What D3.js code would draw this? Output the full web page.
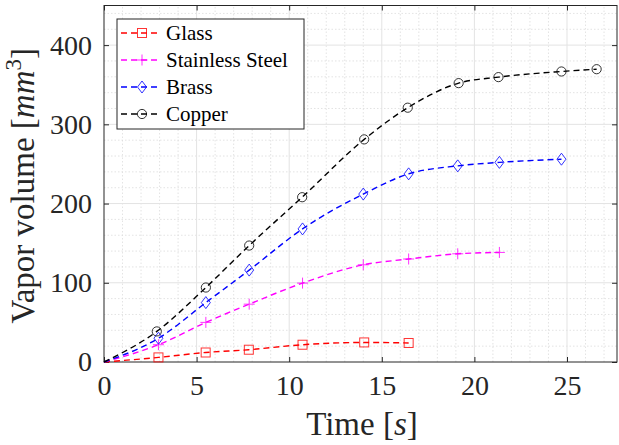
<!DOCTYPE html>
<html>
<head>
<script src="https://d3js.org/d3.v7.min.js"></script>
</head>
<body>
<script>
// data (time in s, volume in mm^3)
var glassT  = [0, 2.94, 5.49, 7.82, 10.72, 14.05, 16.45];
var glassV  = [0, 5.8, 12, 15.5, 21.8, 24.7, 24];
var steelT  = [0, 2.94, 5.5, 7.84, 10.72, 14.0, 16.45, 19.1, 21.35];
var steelV  = [0, 21.8, 50, 73, 99.6, 122.7, 130, 136.6, 138.3];
var brassT  = [0, 2.94, 5.5, 7.84, 10.72, 14.0, 16.45, 19.1, 21.35, 24.7];
var brassV  = [0, 30, 75, 116, 168, 212, 237.5, 247.6, 252, 256];
var copperT = [0, 2.85, 5.5, 7.84, 10.7, 14.05, 16.4, 19.15, 21.3, 24.7, 26.6];
var copperV = [0, 38.6, 94, 147, 208, 281, 321, 352, 359.6, 366.7, 369.6];

var names   = ["Glass", "Stainless Steel", "Brass", "Copper"];
var colors  = ["#ff0000", "#ff00ff", "#0000ff", "#000000"];
var symbols = ["square", "plus", "diamond", "circle"];
var xTicks  = [0, 5, 10, 15, 20, 25];
var yTicks  = [0, 100, 200, 300, 400];

var series = [
  {t: glassT, v: glassV},
  {t: steelT, v: steelV},
  {t: brassT, v: brassV},
  {t: copperT, v: copperV}
];

var FONT = "'Times New Roman'";
var W = 619, H = 445;
var m = {left: 104, right: 2, top: 5.5, bottom: 83};

d3.select("body").style("margin", "0");
var svg = d3.select("body").append("svg")
  .attr("width", W).attr("height", H)
  .style("display", "block");

var x = d3.scaleLinear().domain([0, 27.7]).range([m.left, W - m.right]);
var y = d3.scaleLinear().domain([0, 450]).range([H - m.bottom, m.top]);

//grid minor
var g = svg.append("g");
g.selectAll(".mx").data(d3.range(1, 28).filter(function(d){ return d % 5 != 0; }))
  .enter().append("line")
  .attr("x1", d => x(d)).attr("x2", d => x(d))
  .attr("y1", y(0)).attr("y2", y(450))
  .attr("stroke", "#dcdcdc").attr("stroke-width", 0.8).attr("stroke-dasharray", "1.5,2");
g.selectAll(".my").data(d3.range(20, 450, 20).filter(function(d){ return d % 100 != 0; }))
  .enter().append("line")
  .attr("y1", d => y(d)).attr("y2", d => y(d))
  .attr("x1", x(0)).attr("x2", x(27.7))
  .attr("stroke", "#dcdcdc").attr("stroke-width", 0.8).attr("stroke-dasharray", "1.5,2");
//grid major
g.selectAll(".gx").data(xTicks.slice(1)).enter().append("line")
  .attr("x1", d => x(d)).attr("x2", d => x(d))
  .attr("y1", y(0)).attr("y2", y(450))
  .attr("stroke", "#e3e3e3").attr("stroke-width", 1);
g.selectAll(".gy").data(yTicks.slice(1)).enter().append("line")
  .attr("y1", d => y(d)).attr("y2", d => y(d))
  .attr("x1", x(0)).attr("x2", x(27.7))
  .attr("stroke", "#e3e3e3").attr("stroke-width", 1);

// axes
var xAx = d3.axisBottom(x).tickValues(xTicks).tickSize(-5).tickPadding(13);
var yAx = d3.axisLeft(y).tickValues(yTicks).tickSize(-5).tickPadding(12);
var xTop = d3.axisTop(x).tickValues(xTicks).tickSize(-5).tickFormat("");
var yRight = d3.axisRight(y).tickValues(yTicks).tickSize(-5).tickFormat("");

function styleAx(sel) {
  sel.select(".domain").remove();
  sel.selectAll("line").attr("stroke", "#262626");
  sel.selectAll("text").attr("fill", "#262626")
    .style("font-family", FONT).style("font-size", "28px");
}
svg.append("g").attr("transform", "translate(0," + y(0) + ")").call(xAx).call(styleAx);
svg.append("g").attr("transform", "translate(" + x(0) + ",0)").call(yAx).call(styleAx);
svg.append("g").attr("transform", "translate(0," + y(450) + ")").call(xTop).call(styleAx);
svg.append("g").attr("transform", "translate(" + x(27.7) + ",0)").call(yRight).call(styleAx);

svg.append("rect")
  .attr("x", x(0)).attr("y", y(450))
  .attr("width", x(27.7) - x(0)).attr("height", y(0) - y(450))
  .attr("fill", "none").attr("stroke", "#262626").attr("stroke-width", 1);

// lines
var line = d3.line().x(d => x(d[0])).y(d => y(d[1])).curve(d3.curveMonotoneX);

function marker(sel, sym, col) {
  if (sym == "square") {
    sel.append("rect").attr("x", -4.5).attr("y", -4.5).attr("width", 9).attr("height", 9)
      .attr("fill", "none").attr("stroke", col);
  } else if (sym == "plus") {
    sel.append("path").attr("d", "M-5.5,0H5.5M0,-5.5V5.5").attr("stroke", col);
  } else if (sym == "diamond") {
    sel.append("path").attr("d", "M0,-6L4.5,0L0,6L-4.5,0Z").attr("fill", "none").attr("stroke", col);
  } else {
    sel.append("circle").attr("r", 4.6).attr("fill", "none").attr("stroke", col);
  }
}

series.forEach(function(s, i) {
  var pts = s.t.map(function(t, k){ return [t, s.v[k]]; });
  svg.append("path").datum(pts)
    .attr("d", line)
    .attr("fill", "none")
    .attr("stroke", colors[i])
    .attr("stroke-width", 1.4)
    .attr("stroke-dasharray", "6,4");
  pts.slice(1).forEach(function(p) {
    var mk = svg.append("g")
      .attr("transform", "translate(" + x(p[0]) + "," + y(p[1]) + ")")
      .attr("stroke-width", 1).attr("opacity", 0.8);
    marker(mk, symbols[i], colors[i]);
  });
});

// legend
var lg = svg.append("g").attr("transform", "translate(117,19)");
lg.append("rect").attr("width", 187).attr("height", 110)
  .attr("fill", "#fff").attr("stroke", "#262626").attr("stroke-width", 1);
names.forEach(function(n, i) {
  var yy = 14 + i * 27;
  lg.append("line").attr("x1", 4).attr("x2", 43).attr("y1", yy).attr("y2", yy)
    .attr("stroke", colors[i]).attr("stroke-width", 1.4).attr("stroke-dasharray", "6,4");
  var mk = lg.append("g").attr("transform", "translate(25," + yy + ")")
    .attr("stroke-width", 1).attr("opacity", 0.8);
  marker(mk, symbols[i], colors[i]);
  lg.append("text").attr("x", 49).attr("y", yy + 7).attr("fill", "#000")
    .style("font-family", FONT).style("font-size", "21px").text(n);
});

// axis labels
var xl = svg.append("text").attr("x", 362).attr("y", 435)
  .attr("text-anchor", "middle").attr("fill", "#262626")
  .style("font-family", FONT).style("font-size", "33px");
xl.append("tspan").text("Time [");
xl.append("tspan").style("font-style", "italic").text("s");
xl.append("tspan").text("]");

var yl = svg.append("text")
  .attr("transform", "translate(34," + ((y(0) + y(450)) / 2 + 2) + ") rotate(-90)")
  .attr("text-anchor", "middle").attr("fill", "#262626")
  .style("font-family", FONT).style("font-size", "33px");
yl.append("tspan").text("Vapor volume [");
yl.append("tspan").style("font-style", "italic").text("mm");
yl.append("tspan").attr("dy", -13).style("font-size", "23px").text("3");
yl.append("tspan").attr("dy", 13).text("]");
</script>
</body>
</html>
